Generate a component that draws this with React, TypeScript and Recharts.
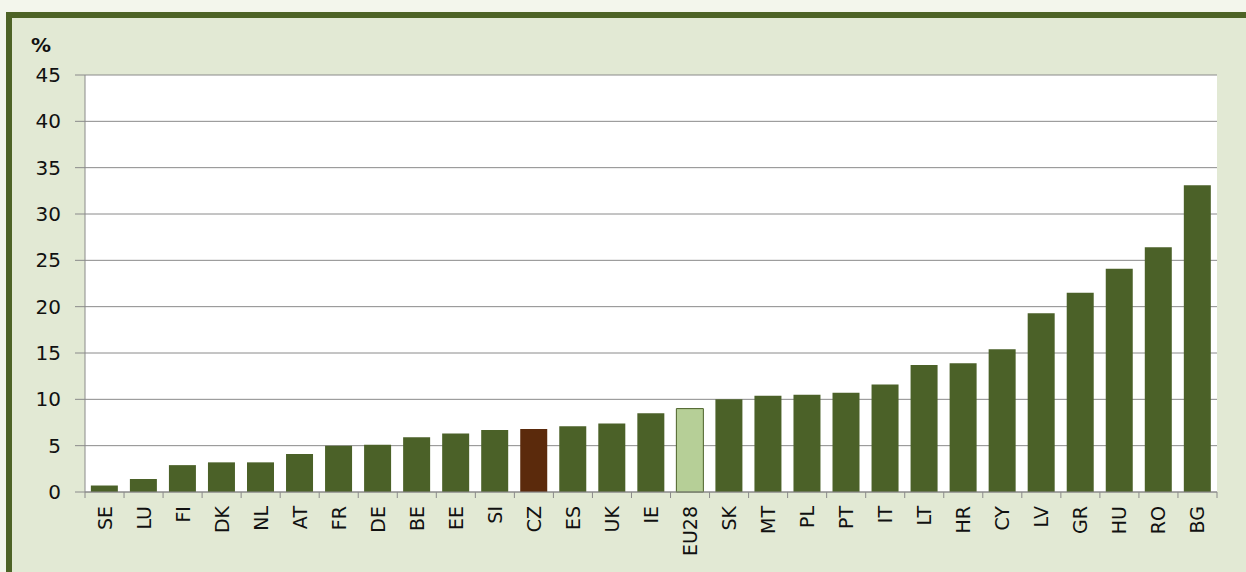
import { Bar, BarChart, CartesianGrid, Cell, XAxis, YAxis } from 'recharts'

const countries = ['SE', 'LU', 'FI', 'DK', 'NL', 'AT', 'FR', 'DE', 'BE', 'EE', 'SI', 'CZ', 'ES', 'UK', 'IE', 'EU28', 'SK', 'MT', 'PL', 'PT', 'IT', 'LT', 'HR', 'CY', 'LV', 'GR', 'HU', 'RO', 'BG']
const values = [0.7, 1.4, 2.9, 3.2, 3.2, 4.1, 5.0, 5.1, 5.9, 6.3, 6.7, 6.8, 7.1, 7.4, 8.5, 9.0, 10.0, 10.4, 10.5, 10.7, 11.6, 13.7, 13.9, 15.4, 19.3, 21.5, 24.1, 26.4, 33.1]
const yTicks = [0, 5, 10, 15, 20, 25, 30, 35, 40, 45]

const data = countries.map((c, i) => ({ country: c, value: values[i] }))

const W = 1246
const H = 572
const margin = { top: 75, right: 29, bottom: 8, left: 30 }
const yAxisWidth = 55
const band = (W - margin.left - margin.right - yAxisWidth) / countries.length

const font = '"DejaVu Sans", Verdana, sans-serif'

function barColor(c: string) {
  if (c === 'CZ') return '#5b2a0c'
  if (c === 'EU28') return '#b6cf97'
  return '#4b6128'
}

function CountryTick({ x, y, payload, index }: any) {
  return (
    <g>
      {index === 0 && <line x1={x - band / 2} x2={x - band / 2} y1={y - 8} y2={y - 2} stroke="#8a8a8a" />}
      <line x1={x + band / 2} x2={x + band / 2} y1={y - 8} y2={y - 2} stroke="#8a8a8a" />
      <text x={x} y={y} transform={`rotate(-90 ${x} ${y})`} dx={-6} dy={7} textAnchor="end" fontSize={19} fill="#111" fontFamily={font}>
        {payload.value}
      </text>
    </g>
  )
}

export default function App() {
  return (
    <div style={{ position: 'absolute', left: 0, top: 0, width: W, height: H, background: '#f3f6ec', overflow: 'hidden' }}>
      <div style={{ position: 'absolute', left: 6, top: 12, width: W, height: H, background: '#e2e9d4', borderTop: '6px solid #4d6326', borderLeft: '6px solid #4d6326', boxSizing: 'border-box' }} />
      <div style={{ position: 'absolute', left: 31, top: 33, fontSize: 20, fontWeight: 'bold', fontFamily: font, color: '#111' }}>%</div>
      <div style={{ position: 'absolute', left: 0, top: 0 }}>
        <BarChart width={W} height={H} data={data} margin={margin} barCategoryGap="15%">
          <CartesianGrid vertical={false} stroke="#8a8a8a" fill="#ffffff" />
          <XAxis
            dataKey="country"
            interval={0}
            height={72}
            tickLine={false}
            axisLine={{ stroke: '#8a8a8a' }}
            tick={<CountryTick />}
          />
          <YAxis
            domain={[0, 45]}
            ticks={yTicks}
            width={yAxisWidth}
            tickSize={10}
            tickMargin={14}
            tickLine={{ stroke: '#8a8a8a' }}
            axisLine={{ stroke: '#8a8a8a' }}
            tick={{ fontSize: 20, fill: '#111', fontFamily: font }}
            interval={0}
          />
          <Bar dataKey="value" isAnimationActive={false}>
            {data.map(d => (
              <Cell key={d.country} fill={barColor(d.country)} stroke={d.country === 'EU28' ? '#4b6128' : 'none'} />
            ))}
          </Bar>
        </BarChart>
      </div>
    </div>
  )
}
